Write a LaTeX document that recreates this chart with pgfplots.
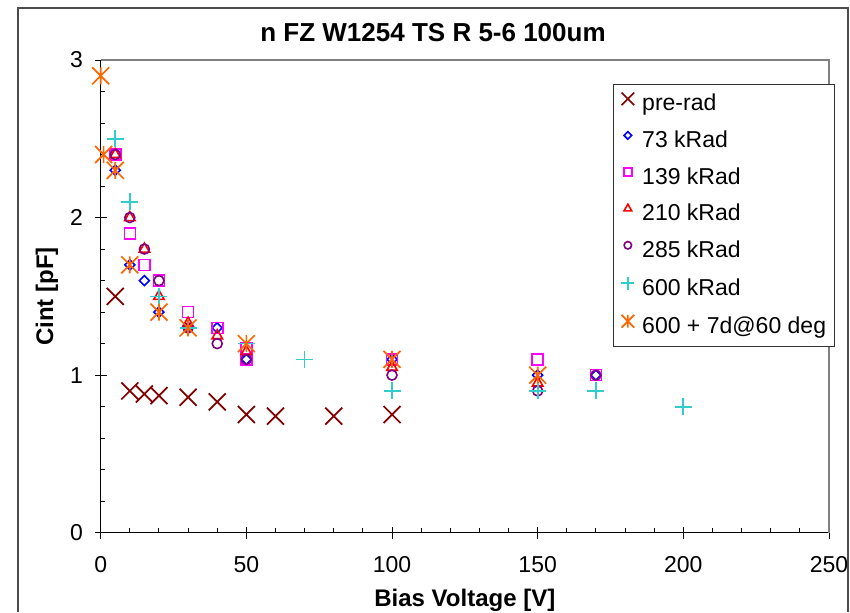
\documentclass[border=0pt]{standalone}
\usepackage{fontspec}
\setmainfont{Liberation Sans}
\usepackage{pgfplots}
\pgfplotsset{compat=1.18}

\definecolor{cPre}{HTML}{800000}
\definecolor{cSeventy}{HTML}{0000FF}
\definecolor{cOneThree}{HTML}{FF00FF}
\definecolor{cTwoTen}{HTML}{FF0000}
\definecolor{cTwoEight}{HTML}{800080}
\definecolor{cSix}{HTML}{33CCCC}
\definecolor{cAnneal}{HTML}{FF6600}

% Excel style star: an x with a vertical bar
\pgfdeclareplotmark{xstar}{%
  \pgfpathmoveto{\pgfqpoint{-\pgfplotmarksize}{-\pgfplotmarksize}}%
  \pgfpathlineto{\pgfqpoint{\pgfplotmarksize}{\pgfplotmarksize}}%
  \pgfpathmoveto{\pgfqpoint{-\pgfplotmarksize}{\pgfplotmarksize}}%
  \pgfpathlineto{\pgfqpoint{\pgfplotmarksize}{-\pgfplotmarksize}}%
  \pgfpathmoveto{\pgfqpoint{0pt}{-\pgfplotmarksize}}%
  \pgfpathlineto{\pgfqpoint{0pt}{\pgfplotmarksize}}%
  \pgfusepathqstroke}

\begin{document}
\begin{tikzpicture}
\path[use as bounding box] (0,0) rectangle (425pt,306pt);
\draw[black!70, line width=0.8pt] (9pt,0) -- (9pt,302pt) -- (424pt,302pt) -- (424pt,0);
\begin{axis}[
    at={(50.35pt,39.65pt)}, anchor=south west,
    scale only axis,
    width=364.15pt, height=236.35pt,
    xmin=0, xmax=250, ymin=0, ymax=3,
    xtick={0,50,...,250}, ytick={0,1,2,3},
    minor x tick num=4, minor y tick num=4,
    axis x line*=bottom, axis y line*=left,
    axis line style={black, line width=0.7pt},
    tick style={black, line width=0.5pt},
    tick align=inside,
    major tick length=6pt, minor tick length=2.2pt,
    major x tick style={yshift=-3pt},
    major y tick style={xshift=-3pt},
    clip=false,
    /pgf/number format/assume math mode=true,
    ticklabel style={font=\fontsize{11.5}{13}\selectfont},
    xticklabel style={yshift=-8.5pt},
    yticklabel style={xshift=-5.3pt},
    title={n FZ W1254 TS R 5-6 100um},
    every axis title/.style={at={(0.4563,1.0571)}, anchor=center, font=\bfseries\fontsize{13}{15}\selectfont},
    xlabel={Bias Voltage [V]},
    ylabel={Cint [pF]},
    xlabel style={at={(axis description cs:0.5,-0.1439)}, anchor=center, font=\bfseries\fontsize{12}{14}\selectfont},
    ylabel style={at={(axis description cs:-0.0737,0.5)}, anchor=center, font=\bfseries\fontsize{12}{14}\selectfont},
    legend style={at={(0.7034,0.9492)}, anchor=north west,
        draw=black!80, line width=0.5pt,
        font=\fontsize{11.5}{13}\selectfont,
        inner xsep=4pt, inner ysep=4pt,
        row sep=7.3pt, column sep=4pt,
        nodes={inner sep=0pt, text height=8.5pt, text depth=2.5pt}},
    legend cell align=left,
    legend image code/.code={\draw[#1,/tikz/every mark/.append style={scale=0.75}] plot coordinates {(4pt,3pt)};},
]
\draw[gray, line width=1pt] (rel axis cs:0,1) -- (rel axis cs:1,1) -- (rel axis cs:1,0);

\addplot[only marks, mark=x, mark size=6pt, color=cPre, line width=0.85pt] coordinates {
    (5,1.5) (10,0.9) (15,0.88) (20,0.87) (30,0.86) (40,0.83) (50,0.75) (60,0.74) (80,0.74) (100,0.75)
};
\addlegendentry{pre-rad}

\addplot[only marks, mark=square, mark size=1.77pt, mark options={rotate=45}, color=cSeventy, line width=0.8pt] coordinates {
    (5,2.3) (10,1.7) (15,1.6) (20,1.4) (30,1.3) (40,1.3) (50,1.1) (100,1.1) (150,1.0) (170,1.0)
};
\addlegendentry{73 kRad}

\addplot[only marks, mark=square, mark size=2.75pt, color=cOneThree, line width=0.8pt] coordinates {
    (5,2.4) (10,1.9) (15,1.7) (20,1.6) (30,1.4) (40,1.3) (50,1.17) (50,1.1) (100,1.1) (150,1.1) (170,1.0)
};
\addlegendentry{139 kRad}

\addplot[only marks, mark=triangle, mark size=3pt, color=cTwoTen, line width=0.8pt] coordinates {
    (5,2.4) (10,2.0) (15,1.8) (20,1.5) (30,1.33) (40,1.25) (50,1.15) (100,1.05) (150,0.95)
};
\addlegendentry{210 kRad}

\addplot[only marks, mark=o, mark size=2.5pt, color=cTwoEight, line width=0.8pt] coordinates {
    (5,2.4) (10,2.0) (15,1.8) (20,1.6) (30,1.3) (40,1.2) (50,1.1) (100,1.0) (150,0.9) (170,1.0)
};
\addlegendentry{285 kRad}

\addplot[only marks, mark=+, mark size=4.25pt, color=cSix, line width=0.85pt] coordinates {
    (5,2.5) (10,2.1) (20,1.5) (30,1.3) (50,1.2) (70,1.1) (100,0.9) (150,0.9) (170,0.9) (200,0.8)
};
\addlegendentry{600 kRad}

\addplot[only marks, mark=xstar, mark size=4.25pt, color=cAnneal, line width=0.85pt] coordinates {
    (0,2.9) (1,2.4) (5,2.3) (10,1.7) (20,1.4) (30,1.3) (50,1.2) (100,1.1) (150,1.0)
};
\addlegendentry{600 + 7d@60 deg}
\end{axis}
\end{tikzpicture}
\end{document}
